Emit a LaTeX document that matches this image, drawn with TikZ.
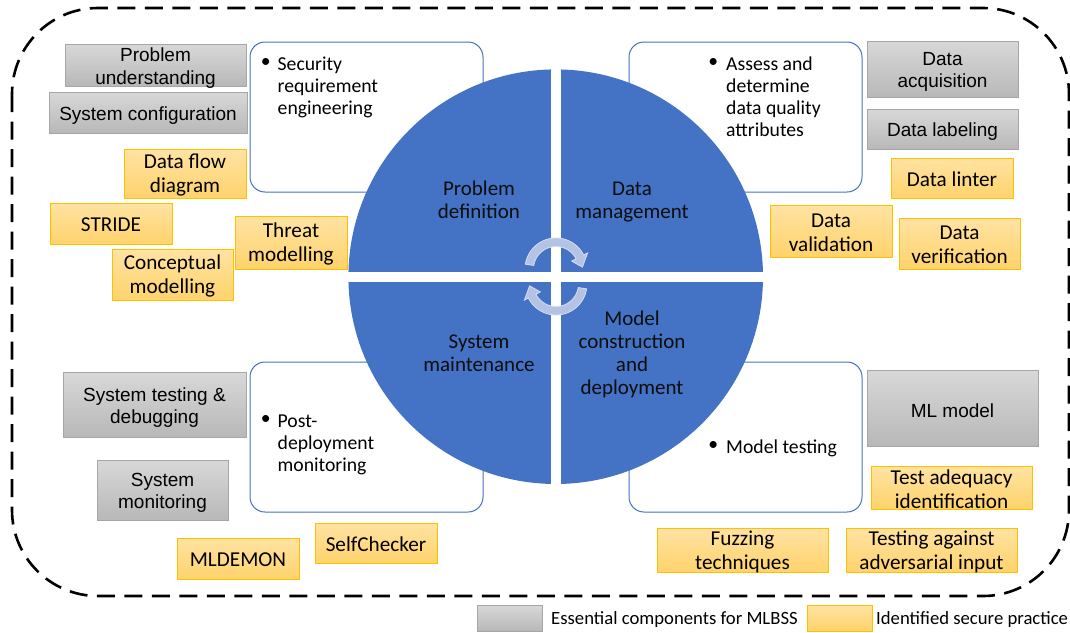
\documentclass[tikz,border=0pt]{standalone}
\usepackage{fontspec}
\setmainfont{Carlito}
\newfontfamily\arialf{Liberation Sans}
\definecolor{ublue}{HTML}{4472C4}
\definecolor{grayedge}{HTML}{A6A6A6}
\definecolor{graytop}{HTML}{D8D8D8}
\definecolor{graybot}{HTML}{B8B8B8}
\definecolor{oredge}{HTML}{FFC000}
\definecolor{ortop}{HTML}{FFE3A3}
\definecolor{orbot}{HTML}{FFD36C}
\definecolor{arrfill}{HTML}{B4C3E3}
\definecolor{arredge}{HTML}{D6DEF0}
\definecolor{qtext}{HTML}{0D0D0D}
\newcommand\mkgray[5]{%
  \node[graybox, minimum width=#3pt, minimum height=#4pt] (#1) at (#2) {};
  \node[graytext] (#1t) at ([yshift=-3pt]#1.center) {#5};}
\newcommand\mkorange[5]{%
  \node[orangebox, minimum width=#3pt, minimum height=#4pt] (#1) at (#2) {};
  \node[orangetext] (#1t) at ([yshift=-1.5pt]#1.center) {#5};}
\begin{document}
\begin{tikzpicture}[x=1pt,y=-1pt,
  outerline/.style={draw=black, line width=2.6pt, dash pattern=on 18pt off 9.5pt, rounded corners=86pt},
  roundbox/.style={draw=ublue, line width=1pt, fill=white, rounded corners=15pt, inner sep=0pt},
  graybox/.style={draw=grayedge, line width=0.9pt, top color=graytop, bottom color=graybot, inner sep=0pt},
  graytext/.style={inner sep=0pt, align=center, text=black, font=\arialf\fontsize{19}{22.5}\selectfont},
  orangebox/.style={draw=oredge, line width=0.9pt, top color=ortop, bottom color=orbot, inner sep=0pt},
  orangetext/.style={inner sep=0pt, align=center, text=black, font=\fontsize{21.2}{24}\selectfont},
  bulletmark/.style={inner sep=0pt, font=\fontsize{19.7}{21.8}\selectfont},
  bullettext/.style={anchor=base west, inner sep=0pt, font=\fontsize{19.7}{21.8}\selectfont},
  quartertext/.style={anchor=base, inner sep=0pt, text=qtext, font=\fontsize{21}{23.3}\selectfont},
  cyclearrow/.style={fill=arrfill, draw=arredge, line width=0.8pt},
  legendtext/.style={anchor=base west, inner sep=0pt, font=\fontsize{18.7}{22}\selectfont}]
\useasboundingbox (0,0) rectangle (1070,632);

% outer dashed frame
\draw[outerline] (12,8) rectangle (1069,596);

% white rounded boxes behind the circle
\node[roundbox, minimum width=233pt, minimum height=150pt] (btl) at (366.5,117) {};
\node[roundbox, minimum width=233pt, minimum height=150pt] (btr) at (745.5,117) {};
\node[roundbox, minimum width=233pt, minimum height=150pt] (bbl) at (366.5,437) {};
\node[roundbox, minimum width=233pt, minimum height=150pt] (bbr) at (745.5,437) {};

% bullet texts
\node[bulletmark] (mtl) at (265.7,63.3) {•};
\node[bullettext] (ttl) at (277.5,70.8) {\parbox[t]{150pt}{\raggedright Security\\requirement\\engineering}};
\node[bulletmark] (mtr) at (713.3,63.3) {•};
\node[bullettext] (ttr) at (726,70.8) {\parbox[t]{150pt}{\raggedright Assess and\\determine\\data quality\\attributes}};
\node[bulletmark] (mbl) at (265.7,420) {•};
\node[bullettext] (tbl) at (277.5,427.5) {\parbox[t]{150pt}{\raggedright Post-\\deployment\\monitoring}};
\node[bulletmark] (mbr) at (713.3,446.3) {•};
\node[bullettext] (tbr) at (726,453.3) {Model testing};

% circle with cross
\node[circle, fill=ublue, minimum size=414.6pt, inner sep=0pt] (cyc) at (555.7,276.7) {};
\draw[white, line width=10pt] (cyc.north) -- (cyc.south);
\draw[white, line width=10pt] (cyc.west) -- (cyc.east);

% cycle arrows
\path[cyclearrow] plot[domain=189:333, samples=40] ({556+31*cos(\x)},{269+31*sin(\x)})
  -- ({556+35.5*cos(333)},{269+35.5*sin(333)})
  -- ({556+26.5*cos(356)},{269+26.5*sin(356)})
  -- ({556+17.5*cos(333)},{269+17.5*sin(333)})
  -- plot[domain=333:189, samples=40] ({556+22.5*cos(\x)},{269+22.5*sin(\x)}) -- cycle;
\begin{scope}[rotate around={180:(556,276.5)}]
\path[cyclearrow] plot[domain=189:333, samples=40] ({556+31*cos(\x)},{269+31*sin(\x)})
  -- ({556+35.5*cos(333)},{269+35.5*sin(333)})
  -- ({556+26.5*cos(356)},{269+26.5*sin(356)})
  -- ({556+17.5*cos(333)},{269+17.5*sin(333)})
  -- plot[domain=333:189, samples=40] ({556+22.5*cos(\x)},{269+22.5*sin(\x)}) -- cycle;
\end{scope}

% quarter labels
\node[quartertext] (qpd) at (479,195.5) {\parbox[t]{150pt}{\centering Problem\\definition}};
\node[quartertext] (qdm) at (632,195.5) {\parbox[t]{150pt}{\centering Data\\management}};
\node[quartertext] (qsm) at (479,348.5) {\parbox[t]{150pt}{\centering System\\maintenance}};
\node[quartertext] (qmc) at (632,325) {\parbox[t]{150pt}{\centering Model\\construction\\and\\deployment}};

% essential components (gray)
\mkgray{gpu}{155.5,65}{181}{42}{Problem\\understanding}
\mkgray{gsc}{148,112.5}{198}{41}{System configuration}
\mkgray{gda}{942.5,69}{151}{56}{Data\\acquisition}
\mkgray{gdl}{942.5,129}{151}{40}{Data labeling}
\mkgray{gst}{154.5,404.5}{183}{65}{System testing \&\\debugging}
\mkgray{gsm}{162.5,490}{131}{60}{System\\monitoring}
\mkgray{gml}{952.5,408}{171}{76}{ML model}

% identified secure practices (orange)
\mkorange{odf}{185,173.5}{122}{49}{Data flow\\diagram}
\mkorange{ost}{111,223.5}{122}{41}{STRIDE}
\mkorange{otm}{291,242.5}{112}{53}{Threat\\modelling}
\mkorange{ocm}{172.5,274.5}{121}{51}{Conceptual\\modelling}
\mkorange{odl}{952,178}{122}{40}{Data linter}
\mkorange{odva}{831,231}{122}{52}{Data\\validation}
\mkorange{odve}{959.5,243.5}{121}{51}{Data\\verification}
\mkorange{omd}{238,558.5}{122}{41}{MLDEMON}
\mkorange{osc}{376,543}{122}{40}{SelfChecker}
\mkorange{ofz}{742.5,550}{171}{44}{Fuzzing\\techniques}
\mkorange{ota}{931.5,550}{171}{44}{Testing against\\adversarial input}
\mkorange{ote}{951.5,487.5}{161}{43}{Test adequacy\\identification}

% legend
\node[graybox, minimum width=65pt, minimum height=26pt] (lg) at (509.5,618) {};
\node[legendtext] (lgt) at (551,624.5) {Essential components for MLBSS};
\node[orangebox, minimum width=65pt, minimum height=26pt] (lo) at (839.5,618) {};
\node[legendtext] (lot) at (876,624.5) {Identified secure practice};
\end{tikzpicture}
\end{document}
